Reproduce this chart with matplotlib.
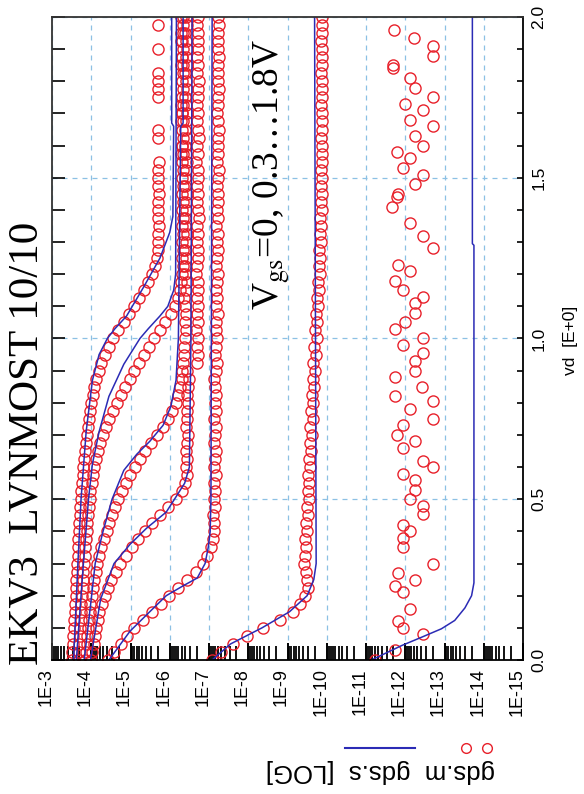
import numpy as np
import matplotlib
matplotlib.use('Agg')
import matplotlib.pyplot as plt
import matplotlib.ticker as mticker
import matplotlib.transforms as mtrans
from matplotlib.lines import Line2D

plt.rcParams['mathtext.fontset'] = 'stix'
plt.rcParams['font.family'] = ['Liberation Sans Narrow', 'Liberation Sans', 'DejaVu Sans']

# ---------------- DATA ----------------
# measured sweep (vd in V), log10(gds) for each Vgs
vd_meas = [0.000, 0.025, 0.050, 0.075, 0.100, 0.125, 0.150, 0.175, 0.200, 0.225,
           0.250, 0.275, 0.300, 0.325, 0.350, 0.375, 0.400, 0.425, 0.450, 0.475,
           0.500, 0.525, 0.550, 0.575, 0.600, 0.625, 0.650, 0.675, 0.700, 0.725,
           0.750, 0.775, 0.800, 0.825, 0.850, 0.875, 0.900, 0.925, 0.950, 0.975,
           1.000, 1.025, 1.050, 1.075, 1.100, 1.125, 1.150, 1.175, 1.200, 1.225,
           1.250, 1.275, 1.300, 1.325, 1.350, 1.375, 1.400, 1.425, 1.450, 1.475,
           1.500, 1.525, 1.550, 1.575, 1.600, 1.625, 1.650, 1.675, 1.700, 1.725,
           1.750, 1.775, 1.800, 1.825, 1.850, 1.875, 1.900, 1.925, 1.950, 1.975,
           2.000]

meas_18 = [-3.50, -3.52, -3.53, -3.54, -3.56, -3.57, -3.58, -3.59, -3.60, -3.61,
           -3.62, -3.63, -3.64, -3.65, -3.66, -3.67, -3.69, -3.70, -3.71, -3.72,
           -3.74, -3.75, -3.77, -3.78, -3.80, -3.82, -3.84, -3.86, -3.88, -3.91,
           -3.94, -3.97, -4.00, -4.04, -4.08, -4.13, -4.19, -4.26, -4.34, -4.44,
           -4.55, -4.68, -4.83, -4.97, -5.10, -5.22, -5.34, -5.45, -5.55, -5.63,
           -5.68, -5.70, -5.71, -5.70, -5.72, -5.70, -5.71, -5.70, -5.72, -5.70,
           -5.71, -5.70, -5.72, -6.28, -6.30, -5.71, -5.70, -6.28, -6.30, -6.28,
           -5.70, -5.71, -5.70, -5.71, -6.28, -6.30, -5.70, -6.29, -6.28, -5.71,
           -6.29]

meas_15 = [-3.68, -3.69, -3.70, -3.71, -3.72, -3.73, -3.74, -3.75, -3.76, -3.78,
           -3.79, -3.80, -3.82, -3.83, -3.85, -3.86, -3.88, -3.90, -3.92, -3.94,
           -3.96, -3.98, -4.01, -4.04, -4.08, -4.12, -4.17, -4.23, -4.30, -4.38,
           -4.46, -4.55, -4.65, -4.76, -4.87, -4.98, -5.10, -5.22, -5.35, -5.48,
           -5.61, -5.75, -5.89, -6.02, -6.13, -6.21, -6.26, -6.29, -6.31, -6.33,
           -6.30, -6.34, -6.31, -6.33, -6.30, -6.35, -6.32, -6.33, -6.30, -6.34,
           -6.31, -6.35, -6.32, -6.33, -6.31, -6.34, -6.32, -6.35, -6.31, -6.33,
           -6.30, -6.34, -6.32, -6.35, -6.33, -6.31, -6.34, -6.32, -6.35, -6.33,
           -6.34]

meas_12 = [-3.85, -3.87, -3.88, -3.90, -3.92, -3.94, -3.96, -3.98, -4.01, -4.04,
           -4.07, -4.11, -4.15, -4.20, -4.26, -4.32, -4.39, -4.46, -4.53, -4.61,
           -4.69, -4.78, -4.88, -4.99, -5.11, -5.24, -5.38, -5.53, -5.68, -5.82,
           -5.95, -6.06, -6.15, -6.22, -6.27, -6.30, -6.32, -6.34, -6.36, -6.37,
           -6.38, -6.41, -6.39, -6.42, -6.40, -6.37, -6.41, -6.43, -6.39, -6.40,
           -6.42, -6.38, -6.41, -6.44, -6.40, -6.39, -6.42, -6.41, -6.43, -6.40,
           -6.38, -6.42, -6.44, -6.41, -6.39, -6.43, -6.40, -6.42, -6.44, -6.41,
           -6.39, -6.43, -6.42, -6.40, -6.44, -6.41, -6.43, -6.42, -6.40, -6.44,
           -6.42]

meas_09 = [-4.00, -4.03, -4.06, -4.09, -4.12, -4.16, -4.21, -4.27, -4.34, -4.42,
           -4.51, -4.62, -4.74, -4.88, -5.03, -5.19, -5.37, -5.56, -5.76, -5.96,
           -6.15, -6.30, -6.40, -6.44, -6.42, -6.45, -6.41, -6.44, -6.46, -6.42,
           -6.45, -6.43, -6.47, -6.44, -6.46, -6.48, -6.45, -6.70, -6.72, -6.69,
           -6.71, -6.68, -6.72, -6.70, -6.73, -6.69, -6.71, -6.72, -6.68, -6.70,
           -6.73, -6.71, -6.69, -6.72, -6.70, -6.74, -6.71, -6.69, -6.72, -6.70,
           -6.73, -6.71, -6.68, -6.72, -6.70, -6.74, -6.71, -6.69, -6.73, -6.70,
           -6.72, -6.71, -6.74, -6.70, -6.72, -6.69, -6.73, -6.71, -6.72, -6.70,
           -6.73]

meas_06 = [-4.42, -4.58, -4.75, -4.92, -5.10, -5.32, -5.55, -5.77, -5.98, -6.20,
           -6.45, -6.68, -6.85, -6.96, -7.04, -7.09, -7.12, -7.14, -7.11, -7.15,
           -7.13, -7.16, -7.12, -7.17, -7.14, -7.15, -7.18, -7.13, -7.16, -7.19,
           -7.14, -7.17, -7.15, -7.19, -7.16, -7.14, -7.18, -7.20, -7.16, -7.18,
           -7.21, -7.17, -7.19, -7.22, -7.18, -7.20, -7.17, -7.21, -7.23, -7.19,
           -7.21, -7.24, -7.20, -7.22, -7.19, -7.23, -7.21, -7.24, -7.22, -7.20,
           -7.23, -7.25, -7.21, -7.23, -7.24, -7.22, -7.25, -7.23, -7.21, -7.24,
           -7.22, -7.25, -7.23, -7.24, -7.22, -7.25, -7.23, -7.24, -7.22, -7.25,
           -7.24]

meas_03 = [-7.08, -7.30, -7.60, -7.98, -8.38, -8.80, -9.15, -9.33, -9.45, -9.52,
           -9.50, -9.47, -9.42, -9.45, -9.48, -9.44, -9.50, -9.46, -9.52, -9.49,
           -9.55, -9.51, -9.56, -9.53, -9.58, -9.54, -9.60, -9.57, -9.62, -9.58,
           -9.64, -9.60, -9.66, -9.62, -9.68, -9.64, -9.70, -9.66, -9.72, -9.68,
           -9.74, -9.70, -9.76, -9.72, -9.78, -9.74, -9.80, -9.77, -9.82, -9.79,
           -9.84, -9.81, -9.85, -9.83, -9.86, -9.84, -9.87, -9.86, -9.89, -9.86,
           -9.88, -9.86, -9.89, -9.87, -9.88, -9.86, -9.89, -9.87, -9.88, -9.86,
           -9.89, -9.87, -9.88, -9.86, -9.89, -9.87, -9.88, -9.86, -9.89, -9.87,
           -9.88]

# Vgs = 0: noise floor, only the points that can be seen
vd_meas_00 = [0.00, 0.03, 0.08, 0.10, 0.12, 0.16, 0.21, 0.23, 0.25, 0.27,
              0.30, 0.35, 0.38, 0.40, 0.42, 0.455, 0.48, 0.50, 0.53, 0.56,
              0.58, 0.60, 0.62, 0.66, 0.68, 0.70, 0.73, 0.75, 0.78, 0.805,
              0.82, 0.85, 0.88, 0.90, 0.93, 0.955, 0.98, 1.00, 1.03, 1.05,
              1.08, 1.11, 1.13, 1.15, 1.18, 1.21, 1.23, 1.28, 1.32, 1.36,
              1.41, 1.44, 1.45, 1.48, 1.51, 1.53, 1.56, 1.58, 1.60, 1.63,
              1.66, 1.68, 1.71, 1.73, 1.75, 1.78, 1.81, 1.84, 1.85, 1.88,
              1.91, 1.935, 1.96]
meas_00 = [-11.23, -11.74, -12.46, -11.95, -11.82, -12.12, -11.95, -11.74, -12.25, -11.82,
           -12.71, -11.95, -11.95, -12.12, -11.95, -12.46, -12.46, -12.12, -12.25, -12.25,
           -11.95, -12.71, -12.46, -11.95, -12.25, -11.78, -11.95, -12.71, -12.12, -12.71,
           -11.74, -12.42, -11.74, -12.25, -12.25, -12.46, -11.95, -12.46, -11.74, -11.99,
           -12.25, -12.25, -12.46, -11.95, -11.74, -12.12, -11.82, -12.71, -12.46, -12.12,
           -11.65, -11.78, -11.82, -12.25, -12.46, -11.95, -12.12, -11.78, -12.46, -12.25,
           -12.71, -12.12, -12.46, -11.99, -12.71, -12.25, -12.12, -11.69, -11.69, -12.71,
           -12.71, -12.23, -11.72]

# simulated EKV3 curves (vd, log10 gds)
sim_vd_18 = [0.0, 0.3, 0.5, 0.71, 0.87, 0.95, 1.0, 1.03, 1.07, 1.157, 1.25, 1.33, 1.38, 1.66, 1.67, 2.0]
sim_18 = [-3.55, -3.66, -3.74, -3.87, -4.03, -4.20, -4.41, -4.60, -4.90, -5.32, -5.75, -6.00, -6.08, -6.10, -6.05, -6.05]

sim_vd_15 = [0.0, 0.3, 0.5, 0.61, 0.71, 0.82, 0.92, 1.0, 1.03, 1.07, 1.10, 1.15, 1.2, 2.0]
sim_15 = [-3.62, -3.80, -3.93, -4.03, -4.20, -4.45, -4.83, -5.24, -5.45, -5.75, -5.95, -6.10, -6.15, -6.17]

sim_vd_12 = [0.0, 0.19, 0.3, 0.4, 0.5, 0.59, 0.64, 0.68, 0.73, 0.79, 0.87, 1.0, 1.66, 1.67, 2.0]
sim_12 = [-3.82, -4.00, -4.10, -4.30, -4.53, -4.83, -5.16, -5.49, -5.83, -6.03, -6.16, -6.22, -6.28, -6.34, -6.34]

sim_vd_09 = [0.0, 0.19, 0.3, 0.36, 0.41, 0.46, 0.5, 0.55, 0.6, 1.0, 2.0]
sim_09 = [-3.98, -4.24, -4.58, -4.99, -5.41, -5.91, -6.12, -6.38, -6.50, -6.54, -6.57]

sim_vd_06 = [0.0, 0.09, 0.15, 0.2, 0.23, 0.255, 0.3, 0.35, 0.4, 0.5, 2.0]
sim_06 = [-4.45, -4.99, -5.49, -5.91, -6.33, -6.70, -6.90, -6.98, -7.03, -7.05, -7.08]

sim_vd_03 = [0.0, 0.05, 0.1, 0.15, 0.2, 0.25, 0.3, 2.0]
sim_03 = [-7.08, -7.55, -8.35, -9.05, -9.50, -9.67, -9.73, -9.69]

sim_vd_00 = [0.0, 0.02, 0.045, 0.071, 0.097, 0.123, 0.162, 0.2, 0.24, 1.29, 1.295, 2.0]
sim_00 = [-11.14, -11.48, -11.91, -12.42, -12.92, -13.26, -13.52, -13.69, -13.75, -13.75, -13.71, -13.71]

decades = [-3, -4, -5, -6, -7, -8, -9, -10, -11, -12, -13, -14, -15]
decade_labels = ['1E-3', '1E-4', '1E-5', '1E-6', '1E-7', '1E-8', '1E-9',
                 '1E-10', '1E-11', '1E-12', '1E-13', '1E-14', '1E-15']
vd_ticks = [0.0, 0.5, 1.0, 1.5, 2.0]
vd_labels = ['0.0', '0.5', '1.0', '1.5', '2.0']

RED = '#e8202a'
BLUE = '#2b2bb5'

# ---------------- PLOT ----------------
fig = plt.figure(figsize=(5.84, 7.94), dpi=100)
ax = fig.add_axes([52 / 584, 134 / 794, 471 / 584, 643 / 794])

meas_sets = [(vd_meas, meas_18), (vd_meas, meas_15), (vd_meas, meas_12),
             (vd_meas, meas_09), (vd_meas, meas_06), (vd_meas, meas_03),
             (vd_meas_00, meas_00)]
for vd, lg in meas_sets:
    ax.plot(10.0 ** np.array(lg), vd, ls='none', marker='o', ms=8,
            mfc='none', mec=RED, mew=1.0)

sim_sets = [(sim_vd_18, sim_18), (sim_vd_15, sim_15), (sim_vd_12, sim_12),
            (sim_vd_09, sim_09), (sim_vd_06, sim_06), (sim_vd_03, sim_03),
            (sim_vd_00, sim_00)]
for vd, lg in sim_sets:
    ax.plot(10.0 ** np.array(lg), vd, color=BLUE, lw=1.1)

ax.set_xscale('log')
ax.set_xlim(1e-3, 1e-15)
ax.set_ylim(0, 2)

ax.set_xticks([10.0 ** d for d in decades])
ax.set_xticklabels(decade_labels)
ax.xaxis.set_minor_locator(mticker.LogLocator(base=10, subs=np.arange(2, 10), numticks=100))
ax.xaxis.set_minor_formatter(mticker.NullFormatter())
ax.tick_params(axis='x', which='major', direction='in', length=12, width=1.4,
               labelsize=13, pad=6, labelrotation=90, top=False)
ax.tick_params(axis='x', which='minor', direction='in', length=10, width=1.3, top=False)

ax.set_yticks(vd_ticks)
ax.set_yticklabels(vd_labels)
ax.yaxis.set_minor_locator(mticker.MultipleLocator(0.1))
ax.tick_params(axis='y', which='both', direction='in', left=True, right=True,
               labelleft=False, labelright=True, width=1.2, labelsize=12.5,
               labelrotation=90, pad=6)
for t in ax.yaxis.get_major_ticks() + ax.yaxis.get_minor_ticks():
    t.tick1line.set_markersize(9.5)
    t.tick2line.set_markersize(4)
for lab in ax.get_yticklabels():
    lab.set_va('center')

ax.grid(True, which='major', color='#8cc0e4', linestyle=(0, (4, 4)), linewidth=0.9)
ax.set_axisbelow(True)
for sp in ax.spines.values():
    sp.set_linewidth(1.3)
ax.spines['left'].set_color('#333333')
ax.spines['top'].set_color('#333333')

# tick labels on the log axis sit a little left of their ticks
shift = mtrans.ScaledTranslation(-6 / 100, 0, fig.dpi_scale_trans)
for lab in ax.get_xticklabels():
    lab.set_transform(lab.get_transform() + shift)

# texts
fig.text(27 / 584, 1 - 665 / 794, 'EKV3  LVNMOST 10/10', rotation=90,
         ha='center', va='bottom', fontsize=31, family='Liberation Serif')
fig.text(272 / 584, 1 - 310 / 794, r'V$_{\mathrm{gs}}$=0, 0.3…1.8V', rotation=90,
         ha='center', va='bottom', fontsize=27, family='Liberation Serif')
fig.text(570 / 584, 1 - 340 / 794, 'vd  [E+0]', rotation=90,
         ha='center', va='center', fontsize=12.5)
fig.text(380 / 584, 1 - 771 / 794, 'gds.m  gds.s  [LOG]', rotation=180,
         ha='center', va='center', fontsize=18.5, family=['Liberation Sans', 'DejaVu Sans'])

# legend keys below the axis
fig.add_artist(Line2D([345 / 584, 415 / 584], [1 - 748 / 794, 1 - 748 / 794],
                      transform=fig.transFigure, color=BLUE, lw=1.5))
fig.add_artist(Line2D([466 / 584, 487 / 584], [1 - 748 / 794, 1 - 748 / 794],
                      transform=fig.transFigure, ls='none', marker='o', ms=7,
                      mfc='none', mec=RED, mew=1.0))

fig.savefig('out.png', dpi=100)
